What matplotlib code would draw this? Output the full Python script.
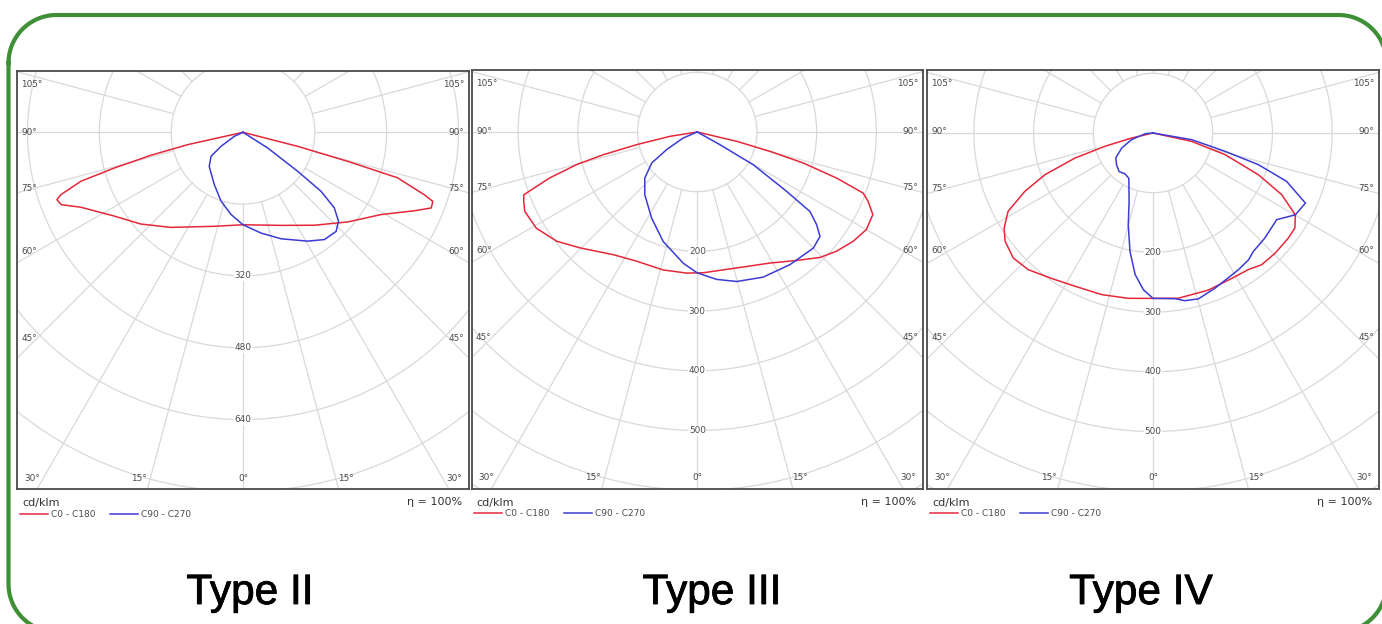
import numpy as np
import matplotlib
matplotlib.use("Agg")
import matplotlib.pyplot as plt
import matplotlib.patheffects as pe
from matplotlib.patches import Circle

W, H = 1382, 624

# luminous intensity in cd/klm against gamma angle in degrees
# (0 = nadir, negative angles = C180 / C270 half, positive = C0 / C90 half)
type2_c0_gamma = [-90, -77.4, -76.0, -74.5, -73.2, -71.1, -70.1, -68.3, -65.2, -56.9, -48.1, -37.2, -17.0, 0,
                  22.2, 37.5, 49.4, 59.2, 65.4, 68.1, 70.0, 71.0, 73.6, 74.5, 75.6, 90]
type2_c0_cd = [0, 126, 211, 297, 377, 429, 441, 436, 398, 342, 306, 266, 219, 206,
               224, 261, 307, 358, 420, 452, 450, 427, 359, 242, 126, 0]
type2_c90_gamma = [-90, -65.2, -57.5, -53.1, -44.7, -28.7, -17.7, -8.3, 0, 10.1, 19.7, 30.7, 37.2, 43.2,
                   47.0, 50.4, 52.9, 54.5, 57.6, 90]
type2_c90_cd = [0, 21, 58, 89, 107, 133, 161, 185, 206, 228, 252, 282, 300, 303,
                291, 264, 218, 150, 65, 0]

type3_c0_gamma = [-90, -81.0, -78.2, -76.4, -74.9, -72.7, -70.1, -68.2, -65.3, -59.1, -52.1, -45.3, -34.4,
                  -25.1, -13.9, -4.3, 2.4, 10.7, 20.2, 29.0, 37.7, 44.4, 49.4, 55.0, 60.0, 64.8, 67.9,
                  69.8, 71.7, 73.7, 75.1, 76.7, 90]
type3_c0_cd = [0, 46, 104, 162, 209, 259, 309, 313, 318, 314, 298, 276, 249,
               239, 238, 237, 236, 235, 240, 251, 272, 294, 307, 319, 327, 325, 309,
               296, 246, 185, 126, 68, 0]
type3_c90_gamma = [-90, -66.9, -60.1, -55.8, -48.7, -39.9, -28.0, -17.3, -6.1, 0, 7.5, 14.8, 24.4, 34.9,
                   45.0, 49.6, 52.2, 54.8, 56.4, 59.7, 60.8, 90]
type3_c90_cd = [0, 26, 59, 92, 117, 137, 163, 192, 221, 236, 249, 259, 267, 271,
                275, 270, 253, 231, 180, 109, 44, 0]

type4_c0_gamma = [-90, -76.8, -74.5, -72.2, -68.9, -65.5, -61.6, -57.4, -53.8, -48.2, -42.4, -34.9, -27.0,
                  -17.6, -8.5, 0, 8.7, 19.4, 28.5, 34.9, 39.5, 45.5, 52.2, 56.2, 60.1, 64.4, 68.4,
                  73.3, 77.8, 90]
type4_c0_cd = [0, 37, 84, 137, 194, 236, 276, 296, 307, 314, 310, 297, 288,
               284, 280, 277, 280, 279, 277, 279, 286, 287, 287, 286, 275, 239, 190,
               126, 66, 0]
type4_c90_gamma = [-90, -85.0, -72.6, -64.4, -56.2, -48.9, -41.3, -34.3, -28.1, -19.3, -15.1, -11.0, -7.2,
                   -3.5, 0, 7.6, 10.8, 15.3, 21.8, 32.0, 37.0, 40.3, 46.8, 55.0, 60.1, 65.3, 70.1,
                   73.3, 75.7, 80.2, 90]
type4_c90_cd = [0, 13, 38, 58, 75, 81, 86, 83, 86, 121, 159, 202, 239,
                263, 277, 280, 286, 288, 280, 270, 266, 260, 257, 253, 275, 281, 238,
                184, 125, 66, 0]

titles = ["Type II", "Type III", "Type IV"]
ring_steps = [160, 100, 100]
ring_labels = [[320, 480, 640], [200, 300, 400, 500], [200, 300, 400, 500]]
side_angles = [105, 90, 75, 60, 45]
bottom_angles = [30, 15, 0, 15, 30]
curves = [
    [(type2_c0_gamma, type2_c0_cd), (type2_c90_gamma, type2_c90_cd)],
    [(type3_c0_gamma, type3_c0_cd), (type3_c90_gamma, type3_c90_cd)],
    [(type4_c0_gamma, type4_c0_cd), (type4_c90_gamma, type4_c90_cd)],
]
plane_names = ["C0 - C180", "C90 - C270"]

# layout in pixels: box (x0, y0, x1, y1), lamp centre y, cd/klm per pixel, title centre x
boxes = [(17, 71, 469, 489), (471.5, 69.5, 923, 488.5), (927, 70, 1379, 488.5)]
centre_y = [132.3, 132, 133]
scales = [2.228, 1.675, 1.675]
title_x = [250, 712, 1141]

red = "#e4283a"
blue = "#3b3bd6"
grid_col = "#d9d9d9"
txt_col = "#4a4a4a"
green = "#3f8f36"

fig = plt.figure(figsize=(W / 100, H / 100), dpi=100)
fig.patch.set_facecolor("white")

# rounded green frame, drawn in pixel units (y measured downwards)
bg = fig.add_axes([0, 0, 1, 1], zorder=-5)
bg.set_xlim(0, W)
bg.set_ylim(H, 0)
bg.axis("off")
fl, ft, fr, fb, rad = 8.5, 15, 1386.5, 632, 48
frame_x, frame_y = [], []
for (ccx, ccy), a0 in [((fl + rad, ft + rad), 180), ((fr - rad, ft + rad), 270),
                       ((fr - rad, fb - rad), 0), ((fl + rad, fb - rad), 90)]:
    a = np.radians(np.linspace(a0, a0 + 90, 30))
    frame_x += list(ccx + rad * np.cos(a))
    frame_y += list(ccy + rad * np.sin(a))
frame_x.append(frame_x[0])
frame_y.append(frame_y[0])
bg.plot(frame_x, frame_y, color=green, lw=3, solid_joinstyle="round")

tick_font = dict(fontsize=6.4, color=txt_col, family="DejaVu Sans")

for i in range(3):
    x0, y0, x1, y1 = boxes[i]
    cx = (x0 + x1) / 2
    cy = centre_y[i]
    s = scales[i]
    ax = fig.add_axes([x0 / W, 1 - y1 / H, (x1 - x0) / W, (y1 - y0) / H])
    ax.set_xlim((x0 - cx) * s, (x1 - cx) * s)
    ax.set_ylim(-(y1 - cy) * s, (cy - y0) * s)
    ax.set_xticks([])
    ax.set_yticks([])
    for sp in ax.spines.values():
        sp.set_color("#4a4a4a")
        sp.set_linewidth(1.3)

    step = ring_steps[i]
    rmax = step * 8
    for r in range(step, rmax, step):
        ax.add_patch(Circle((0, 0), r, fill=False, ec=grid_col, lw=0.9, zorder=1))
    for g in range(-180, 181, 15):
        t = np.radians(g)
        ax.plot([step * np.sin(t), rmax * np.sin(t)], [-step * np.cos(t), -rmax * np.cos(t)],
                color=grid_col, lw=0.9, zorder=1)

    for v in ring_labels[i]:
        ax.text(0, -v, str(v), ha="center", va="center", zorder=3,
                bbox=dict(fc="white", ec="none", pad=0.6), **tick_font)

    # angle labels along the frame
    side_y = [0.967, 0.852, 0.718, 0.569, 0.361]
    for a, yf in zip(side_angles, side_y):
        ax.text(0.01, yf, f"{a}°", transform=ax.transAxes, ha="left", va="center", zorder=3, **tick_font)
        ax.text(0.99, yf, f"{a}°", transform=ax.transAxes, ha="right", va="center", zorder=3, **tick_font)
    for a, xf in zip(bottom_angles, [0.033, 0.27, 0.5, 0.727, 0.967]):
        ax.text(xf, 0.026, f"{a}°", transform=ax.transAxes, ha="center", va="center", zorder=3, **tick_font)

    for (gam, cd), col, name in zip(curves[i], [red, blue], plane_names):
        t = np.radians(np.array(gam))
        cd = np.array(cd)
        ax.plot(cd * np.sin(t), -cd * np.cos(t), color=col, lw=1.1, zorder=4, label=name)

    ax.text(0.011, -0.034, "cd/klm", transform=ax.transAxes, ha="left", va="center",
            fontsize=8, color="#333333", family="DejaVu Sans")
    ax.text(0.985, -0.032, "η = 100%", transform=ax.transAxes, ha="right", va="center",
            fontsize=8, color="#333333", family="DejaVu Sans")
    leg = ax.legend(loc="upper left", bbox_to_anchor=(0.006, -0.05), ncol=2, frameon=False,
                    fontsize=6.5, handlelength=3.1, handletextpad=0.35, columnspacing=1.6,
                    borderpad=0, borderaxespad=0, prop=dict(family="DejaVu Sans", size=6.5))
    for t in leg.get_texts():
        t.set_color(txt_col)

    fig.text(title_x[i] / W, 1 - 604 / H, titles[i], ha="center", va="baseline",
             fontsize=30.5, family="Liberation Sans", color="black",
             path_effects=[pe.withStroke(linewidth=0.6, foreground="black")])

fig.savefig("out.png", dpi=100, facecolor="white")
